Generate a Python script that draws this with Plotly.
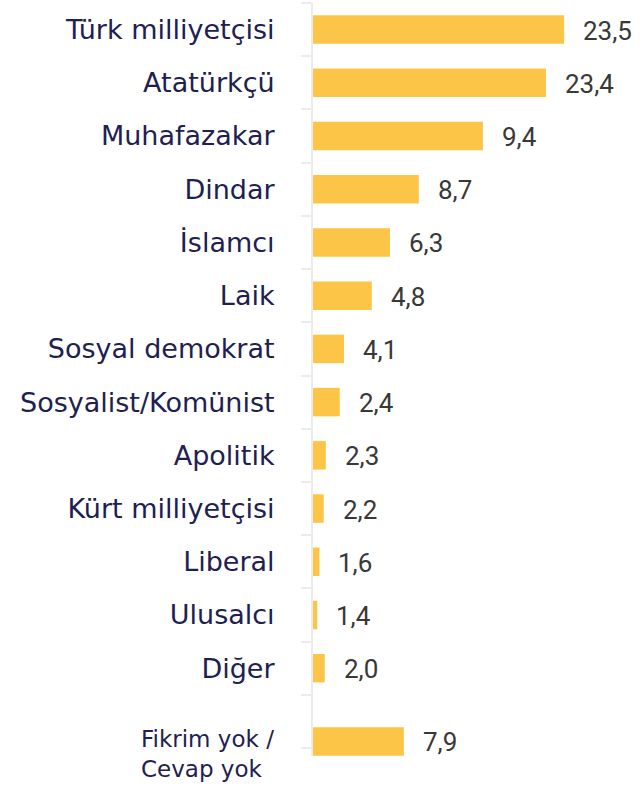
import plotly.graph_objects as go

categories = ["Türk milliyetçisi", "Atatürkçü", "Muhafazakar", "Dindar", "İslamcı", "Laik",
              "Sosyal demokrat", "Sosyalist/Komünist", "Apolitik", "Kürt milliyetçisi",
              "Liberal", "Ulusalcı", "Diğer", "Fikrim yok / Cevap yok"]
tick_labels = ["Türk milliyetçisi", "Atatürkçü", "Muhafazakar", "Dindar", "İslamcı", "Laik",
               "Sosyal demokrat", "Sosyalist/Komünist", "Apolitik", "Kürt milliyetçisi",
               "Liberal", "Ulusalcı", "Diğer", ""]
last_label = "Fikrim yok /<br>Cevap yok"
value_labels = ["23,5", "23,4", "9,4", "8,7", "6,3", "4,8", "4,1", "2,4", "2,3", "2,2",
                "1,6", "1,4", "2,0", "7,9"]
bar_lengths = [23.5, 21.8, 15.9, 9.9, 7.2, 5.5, 2.9, 2.5, 1.2, 1.0, 0.6, 0.4, 1.1, 8.5]

BAR_COLOR = "#FCC547"
LABEL_COLOR = "#1E2150"
VALUE_COLOR = "#383838"

BAR_W = 0.535
# the last bar sits a little lower inside its band, as in the original layout
bar_offsets = [-BAR_W / 2] * (len(categories) - 1) + [0.108]
label_yshifts = [-1] * (len(categories) - 1) + [-21]

fig = go.Figure(go.Bar(
    x=bar_lengths, y=categories, orientation="h",
    width=BAR_W, offset=bar_offsets,
    marker=dict(color=BAR_COLOR, line=dict(width=0)),
    hoverinfo="skip",
))

for cat, v, lab, ys in zip(categories, bar_lengths, value_labels, label_yshifts):
    fig.add_annotation(x=v, y=cat, text=lab, showarrow=False, xanchor="left",
                       xshift=17, yshift=ys,
                       font=dict(family="Roboto", size=26, color=VALUE_COLOR))

# two-line label of the last category, left-aligned block sitting below its band centre
fig.add_annotation(x=0, xref="paper", y=categories[-1], yref="y", text=last_label,
                   showarrow=False, xanchor="right", yanchor="middle", align="left",
                   xshift=-37, yshift=-33,
                   font=dict(family="DejaVu Sans", size=23, color=LABEL_COLOR))

fig.update_layout(
    width=640, height=786,
    margin=dict(l=313, r=0, t=3, b=30, autoexpand=False),
    paper_bgcolor="white", plot_bgcolor="white",
    showlegend=False,
    xaxis=dict(range=[0, 30.6], visible=False, fixedrange=True, automargin=False),
    yaxis=dict(
        categoryorder="array", categoryarray=categories,
        tickmode="array", tickvals=categories, ticktext=tick_labels,
        range=[len(categories) - 0.35, -0.5], automargin=False, fixedrange=True,
        showline=True, linecolor="#ECECEC", linewidth=2,
        ticks="outside", tickson="boundaries", ticklen=10, tickcolor="#ECECEC", tickwidth=2,
        ticklabelstandoff=31,
        showgrid=False, zeroline=False,
        tickfont=dict(family="DejaVu Sans", size=27, color=LABEL_COLOR),
    ),
)

fig.write_html("out.html", config={"displayModeBar": False},
               post_script="document.body.style.margin='0';document.body.style.overflow='hidden';")
